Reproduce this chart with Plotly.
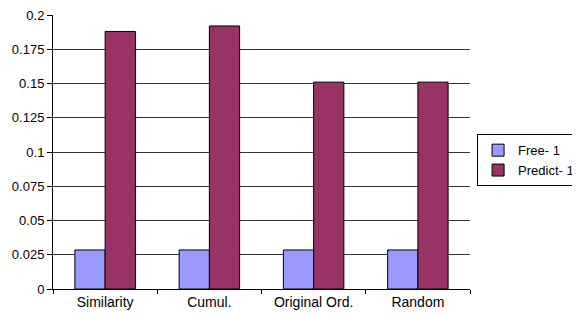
import plotly.graph_objects as go

categories = ["Similarity", "Cumul.", "Original Ord.", "Random"]
free_1 = [0.0285, 0.0285, 0.0285, 0.0285]
predict_1 = [0.188, 0.192, 0.151, 0.151]
y_ticks = [0, 0.025, 0.05, 0.075, 0.1, 0.125, 0.15, 0.175, 0.2]
y_tick_labels = ["0", "0.025", "0.05", "0.075", "0.1", "0.125", "0.15", "0.175", "0.2"]

fig = go.Figure()
fig.add_trace(go.Bar(name="Free- 1", x=categories, y=free_1,
                     marker=dict(color="#9999FF", line=dict(color="black", width=1))))
fig.add_trace(go.Bar(name="Predict- 1", x=categories, y=predict_1,
                     marker=dict(color="#993366", line=dict(color="black", width=1))))

# page body adds an 8px offset, so the figure is sized/margined to compensate
fig.update_layout(
    width=572, height=308,
    margin=dict(l=45, r=110, t=7, b=27, autoexpand=False),
    paper_bgcolor="white", plot_bgcolor="white",
    barmode="group", bargap=0.42, bargroupgap=0,
    font=dict(family="Liberation Sans, Arial, sans-serif", size=14, color="black"),
    legend=dict(x=1.017, y=0.47, xanchor="left", yanchor="middle",
                bordercolor="black", borderwidth=1, bgcolor="white",
                font=dict(size=13), tracegroupgap=0, itemwidth=30),
    showlegend=True,
)
fig.update_xaxes(showline=True, linecolor="black", linewidth=1,
                 ticks="outside", ticklen=4, tickcolor="black",
                 tickson="boundaries", showgrid=False, automargin=False)
fig.update_yaxes(range=[0, 0.2], tickvals=y_ticks, ticktext=y_tick_labels,
                 showline=True, linecolor="black", linewidth=1,
                 ticks="outside", ticklen=5, tickcolor="black",
                 showgrid=True, gridcolor="#333333", gridwidth=1, zeroline=False,
                 automargin=False, ticklabeloverflow="allow",
                 tickfont=dict(size=13))

fig.write_html("out.html")
